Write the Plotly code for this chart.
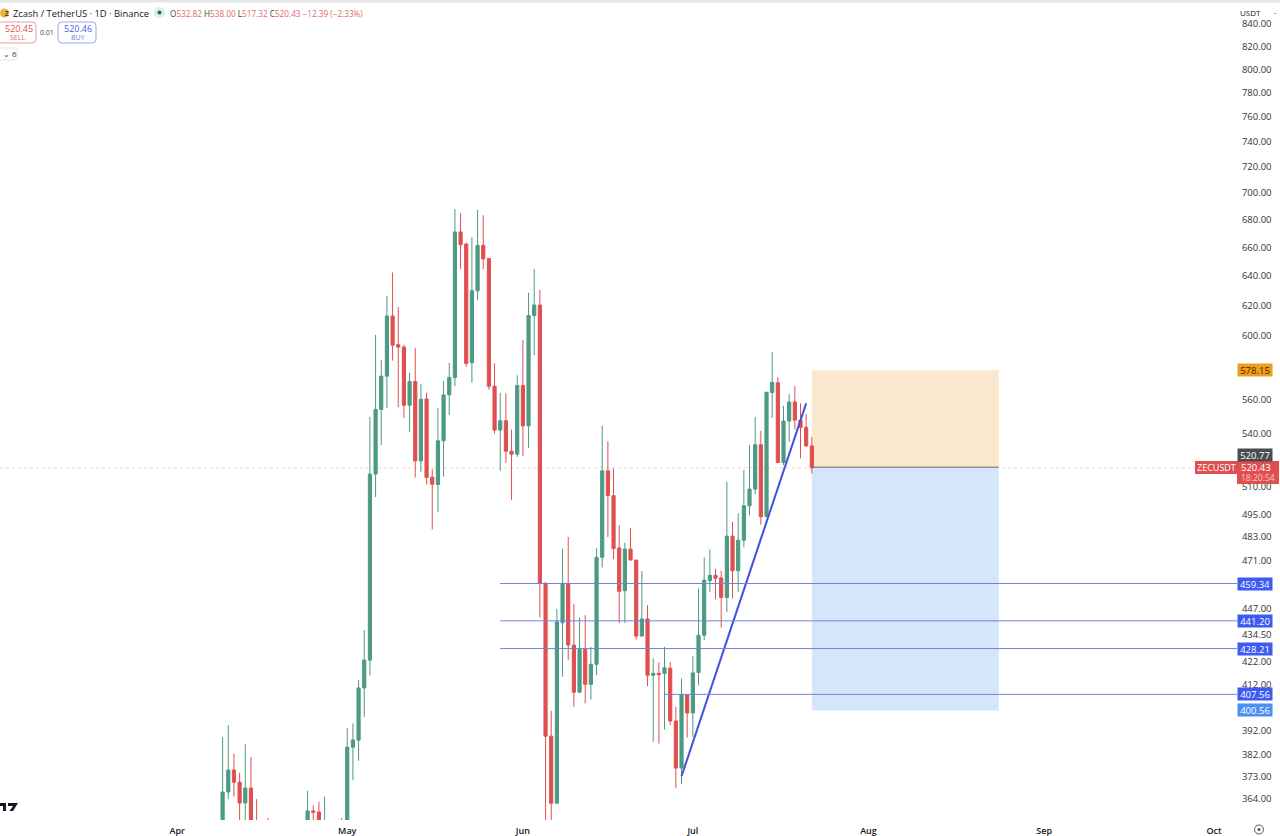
import math
import pandas as pd
import plotly.graph_objects as go

# daily candles, Apr 9 -> Jul 22; None = candle sits fully under the visible range
dates = pd.date_range("2026-04-09", "2026-07-22", freq="D")

opens = [350, 366.8, 375.6, 370.7, 362.5, 368.4, 352, None, 350, None, None, None, None, None, None,
         350, 359.4, 359, 348, None, None, 349,
         353, 385, 387.9, 410.4, 422.9, 516.9, 554.2, 574.5, 613, 594.3, 592.8, 556.8, 571.2, 524.3, 560.5,
         515.2, 511.1, 535.8, 563, 573.7, 671.2, 662.5, 582.9, 629.9, 661.6, 652.2, 568.3, 542, 547.5, 529.8, 528.1,
         568.7, 544.5, 613.3, 620.3, 459.4, 389.6, 362.4, 440.3, 459.4, 429.8, 408.5, 427.9, 412, 421, 472.5,
         518.7, 505, 477.3, 455.8, 476.7, 471.1, 434, 442.1, 416, 416.9, 416.9, 419.2, 396, 376.4, 407.3,
         399.5, 417.3, 434.4, 460.7, 463.4, 462.1, 452.5, 483.4, 465.7, 481.3, 499.5, 508.6, 533.5, 493.7,
         564.4, 570.4, 523.4, 547.3, 558.7, 547.9, 543.6, 532.82]
highs = [389.2, 394.2, 382.4, 374.5, 386.2, 380.9, 364, None, 356.7, None, None, None, None, None, None,
         367.3, 361.6, 363, 365, None, None, 356.7,
         393, 395, 414, 436.8, 549.8, 600.6, 584.6, 626.3, 642.5, 619, 594.3, 576.5, 592.2, 569.6, 564.3,
         519.7, 555, 571.6, 582.7, 688, 685, 663.4, 667.5, 687.3, 683.4, 652.6, 582.5, 564.3, 564, 542.4, 575,
         597.3, 628.6, 644.7, 630.4, 460, 400.4, 447, 477, 483, 449.3, 442.8, 443.9, 429, 477.1, 544.6,
         535.5, 520, 489.2, 480, 487.6, 471.1, 465.6, 448.7, 423.7, 421.8, 429, 422.1, 402.1, 414.6, 407.5,
         424.7, 456.8, 472.5, 476.5, 466.7, 465.7, 512.6, 491, 495.5, 519.1, 533.3, 549.8, 541.6, 564.8,
         589.6, 573.9, 556.4, 563.5, 568.3, 557.9, 551.5, 538]
lows = [345, 364, 365, 352, 350, 348, 345, None, 344, None, None, None, None, None, None,
        345, 355.5, 347, 346, None, None, 347,
        350, 371.5, 379.4, 397.7, 416, 504.3, 533.3, 555, 584.2, 555.6, 549, 541, 515, 518.2, 511.1,
        487, 496.3, 515.4, 550.9, 568.3, 644.9, 580.4, 570.4, 623.6, 644.7, 566.3, 540, 518.7, 523.2, 502.6, 526.6,
        527, 531.7, 587.7, 442.8, 354, 354, 362.2, 415.4, 422.9, 402.1, 408.5, 403.6, 405.3, 416.1, 467.4,
        483, 471.5, 440.2, 440.2, 471.1, 432.4, 434, 411.2, 387.2, 386.5, 392.4, 394.3, 368.3, 369.9, 389,
        389.3, 411.5, 432.1, 455.2, 451.5, 438, 445.4, 452, 455.2, 477.6, 494.5, 505.8, 489.4, 493.7,
        549.2, 523, 521.9, 535.2, 542.4, 525.7, 532.4, 517.32]
closes = [366.8, 375.6, 370.7, 362.5, 368.4, 352, 348, None, 347, None, None, None, None, None, None,
          359.4, 358.9, 350, 352, None, None, 353,
          385, 388, 410.4, 422.9, 516.9, 554.2, 574.5, 613, 594, 592.8, 556.8, 571.2, 524.3, 560.3, 515,
          511.3, 535.8, 563, 573.7, 671.2, 662, 582.5, 629.9, 661.6, 652, 568.3, 542, 547.5, 529.8, 528.1, 568.7,
          544.5, 613.3, 620.3, 459.4, 389.6, 362.4, 440.7, 459.4, 429.8, 408.5, 427.9, 412, 421, 472.5, 518.7,
          505, 477, 455.5, 476.7, 471.1, 434, 442.1, 416, 416.9, 416.3, 419.4, 396, 376.4, 407.3, 399.5,
          417.1, 434.4, 461, 463.4, 462, 452.5, 483.4, 465.7, 481.3, 499.5, 508.6, 533.5, 493.7, 564.6,
          570.6, 523.4, 547.3, 558.7, 547.9, 543.6, 532.8, 520.43]

price_ticks = [840, 820, 800, 780, 760, 740, 720, 700, 680, 660, 640, 620, 600, 560, 540,
               510, 495, 483, 471, 447, 434.5, 422, 412, 392, 382, 373, 364]

level_prices = [459.34, 441.20, 428.21]
level_start = "2026-05-28"
low_level_price = 407.56
low_level_start = "2026-06-26"
target_up = 578.15
entry_price = 520.77
last_price = 520.43
target_down = 400.56
trend_dates = ["2026-06-29", "2026-07-21"]
trend_prices = [373.1, 557.9]
box_dates = ["2026-07-22", "2026-08-24"]

GREEN = "#4c9a83"
RED = "#e04f4f"
BLUE_TAG = "#3d5af1"
TEXT = "#131722"
FONT = "Open Sans"

W, H = 1280, 836
M_L, M_R, M_T, M_B = 0, 43, 5, 16
PLOT_W = W - M_L - M_R
PLOT_H = H - M_T - M_B


def px(x):
    return (x - M_L) / PLOT_W


def py(y):
    return 1 - (y - M_T) / PLOT_H


def round_box(x0, y0, x1, y1, r, border):
    # rounded rectangle in page pixels
    d = (f"M {px(x0 + r)} {py(y0)} L {px(x1 - r)} {py(y0)} Q {px(x1)} {py(y0)} {px(x1)} {py(y0 + r)} "
         f"L {px(x1)} {py(y1 - r)} Q {px(x1)} {py(y1)} {px(x1 - r)} {py(y1)} "
         f"L {px(x0 + r)} {py(y1)} Q {px(x0)} {py(y1)} {px(x0)} {py(y1 - r)} "
         f"L {px(x0)} {py(y0 + r)} Q {px(x0)} {py(y0)} {px(x0 + r)} {py(y0)} Z")
    return dict(type="path", xref="paper", yref="paper", path=d, fillcolor="white",
                line=dict(color=border, width=1))


fig = go.Figure()

fig.add_trace(go.Candlestick(
    x=dates, open=opens, high=highs, low=lows, close=closes,
    increasing=dict(line=dict(color=GREEN, width=1), fillcolor=GREEN),
    decreasing=dict(line=dict(color=RED, width=1), fillcolor=RED),
    whiskerwidth=0, showlegend=False,
))

# trend line and levels
fig.add_trace(go.Scatter(x=trend_dates, y=trend_prices, mode="lines",
                         line=dict(color="#3f51e0", width=2), showlegend=False))

shapes = []
for price in level_prices:
    shapes.append(dict(type="line", xref="x", yref="y", x0=level_start, x1="2026-10-06", y0=price, y1=price,
                       line=dict(color="#6f82e2", width=1)))
shapes.append(dict(type="line", xref="x", yref="y", x0=low_level_start, x1="2026-10-06",
                   y0=low_level_price, y1=low_level_price, line=dict(color="#6f82e2", width=1)))
# position boxes
shapes.append(dict(type="rect", xref="x", yref="y", x0=box_dates[0], x1=box_dates[1],
                   y0=entry_price, y1=target_up, fillcolor="#fae9cf", line=dict(width=0), layer="below"))
shapes.append(dict(type="rect", xref="x", yref="y", x0=box_dates[0], x1=box_dates[1],
                   y0=target_down, y1=entry_price, fillcolor="#d5e6fa", line=dict(width=0), layer="below"))
shapes.append(dict(type="line", xref="x", yref="y", x0=box_dates[0], x1=box_dates[1],
                   y0=entry_price, y1=entry_price, line=dict(color="#666666", width=1)))
# last price line
shapes.append(dict(type="line", xref="paper", yref="y", x0=0, x1=1, y0=last_price, y1=last_price,
                   layer="below", line=dict(color="#f5d5d5", width=1, dash="dot")))
# top strip
shapes.append(dict(type="rect", xref="paper", yref="paper", x0=0, x1=px(W), y0=py(2.5), y1=py(0),
                   fillcolor="#e6e6e6", line=dict(width=0)))
# sell / buy boxes, order count box
shapes.append(round_box(-3, 22, 36, 43, 4, "#e8a0a0"))
shapes.append(round_box(58, 22, 96, 43, 4, "#9aa6ea"))
shapes.append(round_box(-3, 48, 17, 60, 2, "#e6e6e6"))
# USDT box covers the top of the first tick label
shapes.append(dict(type="rect", xref="paper", yref="paper", x0=px(1238), x1=px(1279), y0=py(20), y1=py(4),
                   line=dict(width=0), fillcolor="white"))
# last price boxes
shapes.append(dict(type="rect", xref="paper", yref="paper", x0=px(1195), x1=px(1237), y0=py(474), y1=py(461),
                   line=dict(width=0), fillcolor=RED))
shapes.append(dict(type="rect", xref="paper", yref="paper", x0=px(1237), x1=px(1279), y0=py(484), y1=py(461),
                   line=dict(width=0), fillcolor=RED))
# symbol icon, status dot
shapes.append(dict(type="circle", xref="paper", yref="paper", x0=px(0), x1=px(9), y0=py(17.5), y1=py(8.5),
                   fillcolor="#e8b341", line=dict(width=0)))
shapes.append(dict(type="circle", xref="paper", yref="paper", x0=px(154), x1=px(165), y0=py(18), y1=py(7),
                   fillcolor="#dcefe9", line=dict(width=0)))
shapes.append(dict(type="circle", xref="paper", yref="paper", x0=px(157.5), x1=px(161.5), y0=py(14.5), y1=py(10.5),
                   fillcolor="#1f6f5c", line=dict(width=0)))
# settings icon
shapes.append(dict(type="circle", xref="paper", yref="paper", x0=px(1254.5), x1=px(1263.5), y0=py(834), y1=py(825),
                   fillcolor="white", line=dict(color="#555555", width=1)))
shapes.append(dict(type="circle", xref="paper", yref="paper", x0=px(1257.5), x1=px(1260.5), y0=py(831), y1=py(828),
                   fillcolor="#555555", line=dict(width=0)))
# TradingView mark, cut off at the left edge
shapes.append(dict(type="path", xref="paper", yref="paper", fillcolor="#131722", line=dict(width=0),
                   path=f"M {px(0)} {py(803)} L {px(6)} {py(803)} L {px(6)} {py(811)} L {px(3)} {py(811)} "
                        f"L {px(3)} {py(806)} L {px(0)} {py(806)} Z "
                        f"M {px(8)} {py(803)} L {px(18)} {py(803)} L {px(13)} {py(811)} L {px(9.5)} {py(811)} "
                        f"L {px(13)} {py(806)} L {px(8)} {py(806)} Z"))


def note(x, y, text, size=9.5, color=TEXT, anchor="left", **kw):
    return dict(xref="paper", yref="paper", x=px(x), y=py(y), text=text, showarrow=False,
                xanchor=anchor, yanchor="middle", align=anchor,
                font=dict(family=FONT, size=size, color=color), **kw)


def tag(price, text, bg, color="white"):
    return dict(xref="paper", yref="y", x=1, y=math.log10(price), text=text, showarrow=False,
                xanchor="left", yanchor="middle", width=34, height=12, bgcolor=bg, borderpad=0,
                font=dict(family=FONT, size=9.5, color=color))


red_t = "#e06a6a"
ohlc = (f"O<span style='color:{red_t}'>532.82</span> H<span style='color:{red_t}'>538.00</span> "
        f"L<span style='color:{red_t}'>517.32</span> C<span style='color:{red_t}'>520.43 −12.39 (−2.33%)</span>")

# the entry tag sits just above the last price box, not on its own price
entry_tag = tag(entry_price, "520.77", "#4d4d4f")
entry_tag.update(yref="paper", y=py(455))

annotations = [
    note(3.2, 13, "<b>Z</b>", size=6.5, color="#5b4210"),
    note(11, 13, "Zcash / TetherUS · 1D · Binance", size=9.4),
    note(168, 13, ohlc, size=8.2, color="#444444"),
    note(18.5, 28.5, "520.45", size=9, color=RED, anchor="center"),
    note(17, 37, "SELL", size=7, color="#e06a6a", anchor="center"),
    note(47, 32, "0.01", size=7, color="#444444", anchor="center"),
    note(77.5, 28.5, "520.46", size=9, color="#4a5ce0", anchor="center"),
    note(77.5, 37, "BUY", size=7, color="#6a7ae6", anchor="center"),
    note(1, 54, "⌄ 6", size=8, color="#444444"),
    note(1238, 12.5, "USDT", size=8, color=TEXT),
    note(1275, 12.5, "-", size=7.5, color="#444444", anchor="center"),
    tag(target_up, "578.15", "#f09c1d", color="#3a2a05"),
    entry_tag,
    tag(level_prices[0], "459.34", BLUE_TAG),
    tag(level_prices[1], "441.20", BLUE_TAG),
    tag(level_prices[2], "428.21", BLUE_TAG),
    tag(low_level_price, "407.56", BLUE_TAG),
    tag(target_down, "400.56", "#4a90f0"),
    note(1239, 467.5, "520.43", size=9.5, color="white"),
    note(1239, 477.5, "18:20:54", size=8.5, color="#f7c9c9"),
    note(1216, 467.5, "ZECUSDT", size=9, color="white", anchor="center"),
]

fig.update_layout(
    width=W, height=H,
    margin=dict(l=M_L, r=M_R, t=M_T, b=M_B),
    paper_bgcolor="white", plot_bgcolor="white",
    boxgap=0.2,
    shapes=shapes, annotations=annotations,
    showlegend=False,
    font=dict(family=FONT, size=9.5, color=TEXT),
    xaxis=dict(
        type="date", range=["2026-02-28 17:00", "2026-10-05 01:00"],
        rangeslider=dict(visible=False), showgrid=False, zeroline=False, showline=False,
        tick0="2026-03-01", dtick="M1", tickformat="%b", ticks="outside", ticklen=2, tickcolor="white",
        tickfont=dict(family=FONT, size=9, color=TEXT, weight=600),
    ),
    yaxis=dict(
        type="log", side="right", range=[math.log10(355.9), math.log10(857.4)],
        tickmode="array", tickvals=price_ticks, ticktext=[f"{v:.2f}" for v in price_ticks],
        showgrid=False, zeroline=False, showline=False, ticks="outside", ticklen=2, tickcolor="white",
        tickfont=dict(family=FONT, size=9.5, color="#333333"),
    ),
)

fig.write_html("out.html", config={"displayModeBar": False},
               post_script="document.body.style.margin='0';document.documentElement.style.overflow='hidden';")
